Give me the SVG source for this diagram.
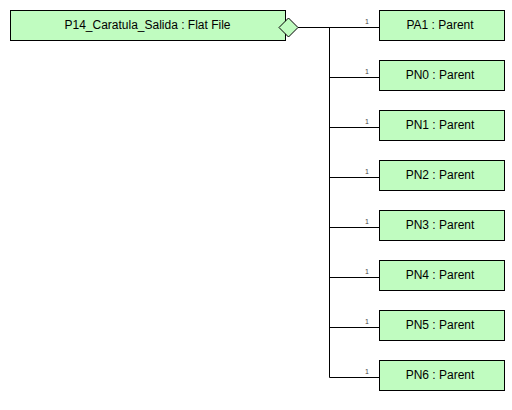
<svg xmlns="http://www.w3.org/2000/svg" width="512" height="410" viewBox="0 0 512 410">
<style>
.box{fill:#c0fcc0;stroke:#000;stroke-width:1}
.t{font-family:"Liberation Sans",Arial,sans-serif;font-size:12px;fill:#000;text-anchor:middle}
.m{font-family:"Liberation Sans",Arial,sans-serif;font-size:7px;fill:#444}
.c{fill:none;stroke:#000;stroke-width:1}
</style>
<rect width="512" height="410" fill="#fff"/>
<g id="connectors">
<path class="c" d="M298 27.5H379M329.5 27.5V377.5M329.5 77.5H379M329.5 127.5H379M329.5 177.5H379M329.5 227.5H379M329.5 277.5H379M329.5 327.5H379M329.5 377.5H379"/>
<text class="m" x="365" y="24">1</text>
<text class="m" x="365" y="74">1</text>
<text class="m" x="365" y="124">1</text>
<text class="m" x="365" y="174">1</text>
<text class="m" x="365" y="224">1</text>
<text class="m" x="365" y="274">1</text>
<text class="m" x="365" y="324">1</text>
<text class="m" x="365" y="374">1</text>
</g>
<g id="main">
<rect class="box" x="10.5" y="10.5" width="275" height="30"/>
<text class="t" x="147.5" y="28.5">P14_Caratula_Salida : Flat File</text>
<polygon class="box" points="279,27.5 288.5,18 298,27.5 288.5,37"/>
</g>
<g id="PA1"><rect class="box" x="379.5" y="10.5" width="125" height="30"/><text class="t" x="440" y="28.5">PA1 : Parent</text></g>
<g id="PN0"><rect class="box" x="379.5" y="60.5" width="125" height="30"/><text class="t" x="440" y="78.5">PN0 : Parent</text></g>
<g id="PN1"><rect class="box" x="379.5" y="110.5" width="125" height="30"/><text class="t" x="440" y="128.5">PN1 : Parent</text></g>
<g id="PN2"><rect class="box" x="379.5" y="160.5" width="125" height="30"/><text class="t" x="440" y="178.5">PN2 : Parent</text></g>
<g id="PN3"><rect class="box" x="379.5" y="210.5" width="125" height="30"/><text class="t" x="440" y="228.5">PN3 : Parent</text></g>
<g id="PN4"><rect class="box" x="379.5" y="260.5" width="125" height="30"/><text class="t" x="440" y="278.5">PN4 : Parent</text></g>
<g id="PN5"><rect class="box" x="379.5" y="310.5" width="125" height="30"/><text class="t" x="440" y="328.5">PN5 : Parent</text></g>
<g id="PN6"><rect class="box" x="379.5" y="360.5" width="125" height="30"/><text class="t" x="440" y="378.5">PN6 : Parent</text></g>
</svg>
